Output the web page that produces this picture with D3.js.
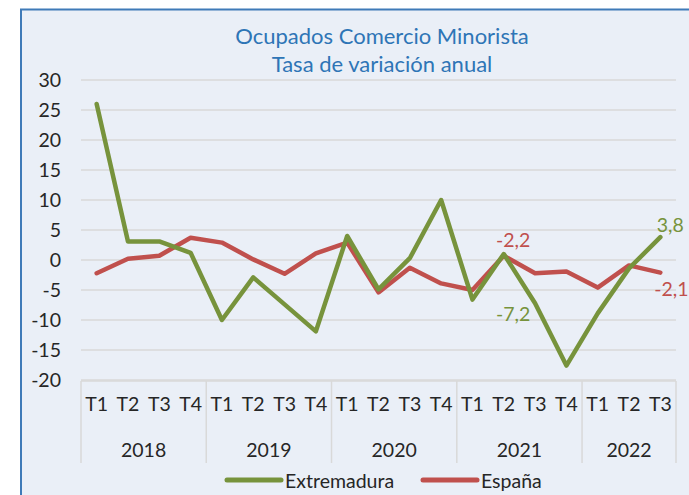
<!DOCTYPE html>
<html>
<head>
<meta charset="utf-8">
<script src="https://cdn.jsdelivr.net/npm/d3@7"></script>
<style>
  body { margin: 0; background: #fff; }
  text { font-family: Lato, "Open Sans", sans-serif; }
</style>
</head>
<body>
<div id="chart-area"></div>
<script>
'use strict';
const svg_width = 689;
const svg_height = 495;

// data
const categories = [
  '2018-T1','2018-T2','2018-T3','2018-T4',
  '2019-T1','2019-T2','2019-T3','2019-T4',
  '2020-T1','2020-T2','2020-T3','2020-T4',
  '2021-T1','2021-T2','2021-T3','2021-T4',
  '2022-T1','2022-T2','2022-T3'
];
const years = ['2018','2019','2020','2021','2022'];
const extremadura = [26.0, 3.1, 3.1, 1.2, -10.0, -2.9, -7.4, -11.9, 4.0, -4.9, 0.3, 10.0, -6.6, 1.0, -7.2, -17.6, -8.9, -1.4, 3.8];
const espana = [-2.2, 0.2, 0.7, 3.7, 2.9, 0.1, -2.3, 1.1, 2.9, -5.4, -1.3, -3.9, -5.0, 0.7, -2.2, -1.9, -4.6, -0.9, -2.1];
const y_ticks = [30, 25, 20, 15, 10, 5, 0, -5, -10, -15, -20];
const title_lines = ['Ocupados Comercio Minorista', 'Tasa de variación anual'];

const green = '#77933C';
const red = '#C0504D';
const text_color = '#262626';
const font_size = 19.5;
const fmt = v => v.toFixed(1).replace('.', ',');

const svg = d3.select('#chart-area')
  .append('svg')
    .attr('width', svg_width)
    .attr('height', svg_height);

// chart frame
svg.append('rect')
  .attr('x', 21).attr('y', 9.5)
  .attr('width', 720).attr('height', 520)
  .attr('fill', '#EAEFF7')
  .attr('stroke', '#3F7AB8')
  .attr('stroke-width', 2);

svg.selectAll('text.title').data(title_lines).enter()
  .append('text')
    .attr('class', 'title')
    .attr('x', 382)
    .attr('y', (d, i) => 35 + i * 28)
    .attr('text-anchor', 'middle')
    .attr('dominant-baseline', 'central')
    .attr('fill', '#2E75B6')
    .attr('font-size', 22)
    .text(d => d);

const x_scale = d3.scaleBand()
  .domain(categories)
  .range([81, 676]);

const y_scale = d3.scaleLinear()
  .domain([-20, 30])
  .range([380, 80]);

// gridlines
svg.append('g')
  .selectAll('line').data(y_ticks).enter()
  .append('line')
    .attr('x1', 81).attr('x2', 676)
    .attr('y1', d => y_scale(d)).attr('y2', d => y_scale(d))
    .attr('stroke', '#D9D9D9')
    .attr('stroke-width', 1.5);

const y_axis = d3.axisLeft(y_scale)
  .tickValues(y_ticks)
  .tickSize(0).tickPadding(0)
  .tickFormat(d => String(d));
svg.append('g')
  .attr('transform', 'translate(61,0)')
  .call(y_axis)
  .call(g => g.select('.domain').remove())
  .call(g => g.selectAll('text')
    .attr('fill', text_color)
    .attr('font-size', font_size)
    .attr('font-family', 'Lato, sans-serif'));

// category axis: quarters
const x_axis = d3.axisBottom(x_scale).tickSize(0).tickPadding(0).tickFormat(d => d.split('-')[1]);
svg.append('g')
  .attr('transform', 'translate(0,397)')
  .call(x_axis)
  .call(g => g.select('.domain').remove())
  .call(g => g.selectAll('text')
    .attr('fill', text_color)
    .attr('font-size', font_size)
    .attr('font-family', 'Lato, sans-serif'));

// year groups
const year_bounds = years.map(yr => {
  const cats = categories.filter(c => c.startsWith(yr));
  const x0 = x_scale(cats[0]);
  const x1 = x_scale(cats[cats.length - 1]) + x_scale.bandwidth();
  return { year: yr, x0, x1 };
});

svg.append('line')
  .attr('x1', 81).attr('x2', 676)
  .attr('y1', 381).attr('y2', 381)
  .attr('stroke', '#D9D9D9').attr('stroke-width', 1.5);

const seps = [year_bounds[0].x0].concat(year_bounds.map(d => d.x1));
svg.append('g')
  .selectAll('line').data(seps).enter()
  .append('line')
    .attr('x1', d => d).attr('x2', d => d)
    .attr('y1', 381).attr('y2', 463)
    .attr('stroke', '#D9D9D9').attr('stroke-width', 1.5);

svg.append('g')
  .selectAll('text').data(year_bounds).enter()
  .append('text')
    .attr('x', d => (d.x0 + d.x1) / 2)
    .attr('y', 449)
    .attr('text-anchor', 'middle')
    .attr('dominant-baseline', 'central')
    .attr('fill', text_color)
    .attr('font-size', font_size)
    .text(d => d.year);

// series lines
const line = d3.line()
  .x((d, i) => x_scale(categories[i]) + x_scale.bandwidth() / 2)
  .y(d => y_scale(d));

const series = [
  { name: 'Extremadura', values: extremadura, color: green },
  { name: 'España', values: espana, color: red }
];

series.slice().reverse().forEach(s => {
  svg.append('path')
    .datum(s.values)
    .attr('fill', 'none')
    .attr('stroke', s.color)
    .attr('stroke-width', 4.5)
    .attr('stroke-linejoin', 'round')
    .attr('stroke-linecap', 'round')
    .attr('d', line);
});

// data labels
const px = i => x_scale(categories[i]) + x_scale.bandwidth() / 2;
const labels = [
  { idx: 14, values: espana, color: red, dx: -22, dy: -34 },
  { idx: 14, values: extremadura, color: green, dx: -22, dy: 10 },
  { idx: 18, values: extremadura, color: green, dx: 10, dy: -13 },
  { idx: 18, values: espana, color: red, dx: 11, dy: 16 }
];
svg.append('g')
  .selectAll('text').data(labels).enter()
  .append('text')
    .attr('x', d => px(d.idx) + d.dx)
    .attr('y', d => y_scale(d.values[d.idx]) + d.dy)
    .attr('text-anchor', 'middle')
    .attr('dominant-baseline', 'central')
    .attr('fill', d => d.color)
    .attr('font-size', font_size)
    .text(d => fmt(d.values[d.idx]));

// legend
const legend = svg.append('g').attr('transform', 'translate(0,480)');
const legend_pos = [227, 423];
series.forEach((s, i) => {
  legend.append('line')
    .attr('x1', legend_pos[i]).attr('x2', legend_pos[i] + 54)
    .attr('stroke', s.color)
    .attr('stroke-width', 5)
    .attr('stroke-linecap', 'round');
  legend.append('text')
    .attr('x', legend_pos[i] + 58)
    .attr('dominant-baseline', 'central')
    .attr('fill', text_color)
    .attr('font-size', font_size)
    .text(s.name);
});
</script>
</body>
</html>
